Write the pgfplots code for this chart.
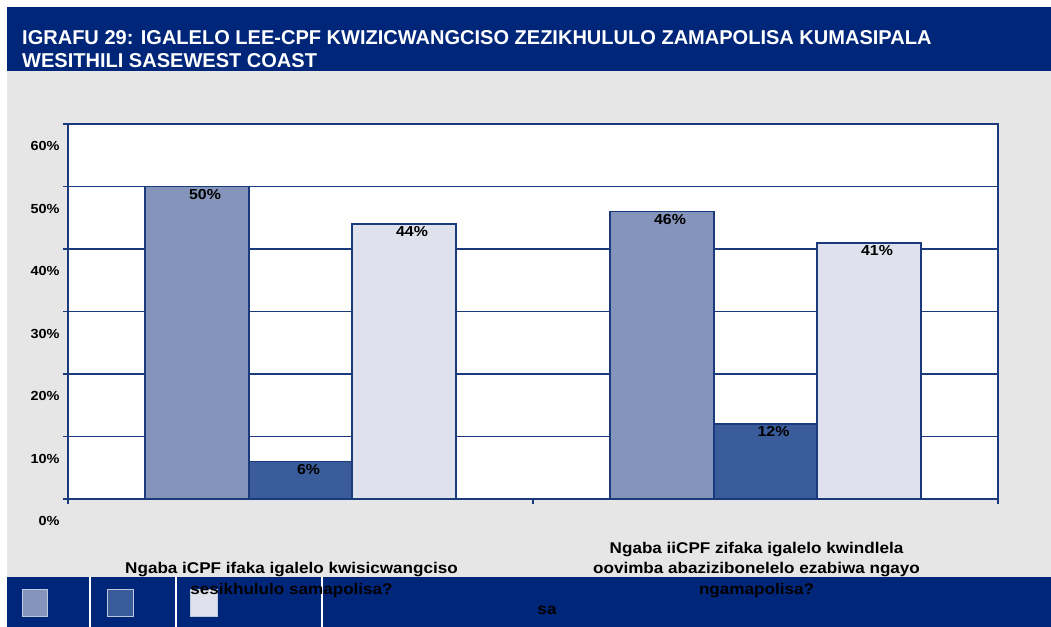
\documentclass[border=0pt]{standalone}
\usepackage{fontspec}
\setmainfont{Liberation Sans}[FakeStretch=1.1]
\newfontfamily\titlefont{Liberation Sans}
\usepackage{pgfplots}
\pgfplotsset{compat=1.18}
\definecolor{navy}{HTML}{00267A}
\definecolor{framec}{HTML}{1A3A7C}
\definecolor{bgrey}{HTML}{E6E6E6}
\definecolor{barA}{HTML}{8494BB}
\definecolor{barB}{HTML}{3A5C9B}
\definecolor{barC}{HTML}{DFE2EC}
\begin{document}
\begin{tikzpicture}
\useasboundingbox (0bp,0bp) rectangle (1051bp,627bp);
\fill[white] (0bp,0bp) rectangle (1051bp,627bp);
\fill[bgrey] (7bp,50bp) rectangle (1051bp,556bp);
\fill[navy] (7bp,556bp) rectangle (1051bp,620bp);
\fill[navy] (7bp,0bp) rectangle (1051bp,50bp);
\foreach \xx in {90,176,322} {\draw[white, line width=1.5bp] (\xx bp,0bp) -- (\xx bp,50bp);}
\fill[barA, draw=white!75!navy, line width=1bp] (22bp,10bp) rectangle (47bp,37bp);
\fill[barB, draw=white!75!navy, line width=1bp] (107bp,10bp) rectangle (133bp,37bp);
\fill[barC, draw=white!75!navy, line width=1bp] (190bp,10bp) rectangle (217bp,37bp);
\node[anchor=base west, inner sep=0pt, text=white, font=\titlefont\fontsize{20.1}{23}\selectfont\bfseries] at (22bp,582bp) {IGRAFU 29: IGALELO LEE-CPF KWIZICWANGCISO ZEZIKHULULO ZAMAPOLISA KUMASIPALA};
\node[anchor=base west, inner sep=0pt, text=white, font=\titlefont\fontsize{20.1}{23}\selectfont\bfseries] at (22bp,559bp) {WESITHILI SASEWEST COAST};
\begin{axis}[
  at={(68bp,128bp)}, anchor=south west,
  scale only axis, width=930bp, height=375bp,
  xmin=-0.5, xmax=1.5, ymin=0, ymax=60,
  /pgf/number format/assume math mode=true,
  axis background/.style={fill=white},
  axis line style={framec, line width=1.8bp},
  ybar=0pt, bar width=103.5bp,
  xtick pos=bottom, ytick pos=left,
  ytick={0,10,...,60},
  yticklabel={\pgfmathprintnumber{\tick}\%},
  yticklabel style={font=\fontsize{13.2}{15}\selectfont\bfseries, yshift=-22bp, text=black},
  ytick style={draw=framec, line width=1.5bp},
  tick align=outside, major tick length=5bp,
  ymajorgrids, grid style={framec, line width=1.5bp},
  xtick={0,1},
  xtick style={draw=none},
  xticklabels={{Ngaba iCPF ifaka igalelo kwisicwangciso\\sesikhululo samapolisa?},{Ngaba iiCPF zifaka igalelo kwindlela\\oovimba abazizibonelelo ezabiwa ngayo\\ngamapolisa?}},
  xticklabel style={align=center, anchor=south, yshift=-97bp, xshift=-9bp, font=\fontsize{15.6}{20.5}\selectfont\bfseries, text=black},
  extra x ticks={-0.5,0.5,1.5},
  extra x tick labels={},
  extra x tick style={xtick style={draw=framec, line width=1.5bp}, grid=none},
  nodes near coords={\pgfmathprintnumber{\pgfplotspointmeta}\%},
  every node near coord/.append style={anchor=north, inner sep=0pt, yshift=-2bp, xshift=8bp, font=\fontsize{14.5}{16}\selectfont\bfseries, text=black},
]
\addplot[fill=barA, draw=framec, line width=1.8bp] coordinates {(0,50) (1,46)};
\addplot[fill=barB, draw=framec, line width=1.8bp] coordinates {(0,6) (1,12)};
\addplot[fill=barC, draw=framec, line width=1.8bp] coordinates {(0,44) (1,41)};
\end{axis}
\node[font=\fontsize{15.6}{18}\selectfont\bfseries, text=black] at (547bp,17bp) {sa};
\end{tikzpicture}
\end{document}
